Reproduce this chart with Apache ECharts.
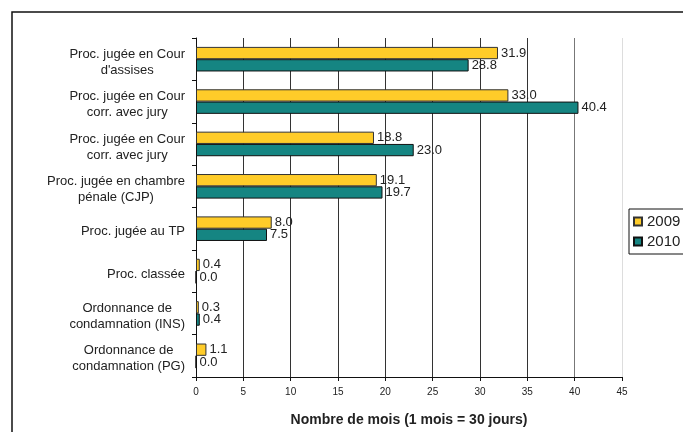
<!DOCTYPE html>
<html>
<head>
<meta charset="utf-8">
<script src="https://cdn.jsdelivr.net/npm/echarts@6/dist/echarts.min.js"></script>
<style>html,body{margin:0;padding:0;background:#fff}#c{width:683px;height:432px}</style>
</head>
<body>
<div id="c"></div>
<script>
const categories = [
  "Proc. jugée en Cour\nd'assises",
  "Proc. jugée en Cour\ncorr. avec jury",
  "Proc. jugée en Cour\ncorr. avec jury",
  "Proc. jugée en chambre\npénale (CJP)",
  "Proc. jugée au TP",
  "Proc. classée",
  "Ordonnance de\ncondamnation (INS)",
  "Ordonnance de\ncondamnation (PG)"
];
const values2009 = [31.9, 33.0, 18.8, 19.1, 8.0, 0.4, 0.3, 1.1];
const values2010 = [28.8, 40.4, 23.0, 19.7, 7.5, 0.0, 0.4, 0.0];
const xTicks = [0, 45, 5];

const FONT = '"Liberation Sans", Arial, sans-serif';
const chart = echarts.init(document.getElementById('c'), null, {renderer: 'canvas'});
const labelCfg = {
  show: true, position: 'right', distance: 3,
  color: '#222', fontSize: 13, fontFamily: FONT,
  formatter: p => p.value.toFixed(1)
};
chart.setOption({
  animation: false,
  backgroundColor: '#fff',
  graphic: [{
    type: 'rect', shape: {x: 12, y: 12, width: 700, height: 450},
    style: {fill: 'none', stroke: '#111', lineWidth: 1.5}, silent: true, z: 100
  }],
  legend: {
    orient: 'vertical', left: 629, top: 209,
    data: ['2009', '2010'],
    borderColor: '#111', borderWidth: 1, borderRadius: 0,
    padding: [5, 6, 5, 4],
    itemWidth: 8, itemHeight: 8, itemGap: 5,
    icon: 'rect',
    textStyle: {fontSize: 15, color: '#222', fontFamily: FONT}
  },
  grid: {left: 196, right: 61, top: 38, bottom: 48, containLabel: false},
  xAxis: {
    type: 'value', min: xTicks[0], max: xTicks[1], interval: xTicks[2],
    axisLine: {show: true, lineStyle: {color: '#111', width: 1}},
    axisTick: {show: true, length: 4, lineStyle: {color: '#111'}},
    axisLabel: {fontSize: 10, color: '#222', margin: 10, fontFamily: FONT},
    splitLine: {show: true, lineStyle: {color: ['#333','#333','#333','#333','#333','#333','#333','#333','#777','#ddd'], width: 1}},
    name: 'Nombre de mois (1 mois = 30 jours)',
    nameLocation: 'middle', nameGap: 36,
    nameTextStyle: {fontSize: 14, fontWeight: 'bold', color: '#222', fontFamily: FONT}
  },
  yAxis: {
    type: 'category', data: categories, inverse: true,
    axisLine: {show: true, lineStyle: {color: '#111'}},
    axisTick: {show: true, length: 4, lineStyle: {color: '#111'}},
    axisLabel: {
      margin: 11, color: '#222', fontSize: 13, fontFamily: FONT,
      lineHeight: 16, padding: [6, 0, 0, 0],
      formatter: v => v.split('\n').map(l => '{c|' + l + '}').join('\n'),
      rich: {c: {align: 'center', fontSize: 13, color: '#222', fontFamily: FONT, lineHeight: 16}}
    },
    splitLine: {show: false}
  },
  series: [
    {
      name: '2009', type: 'bar', data: values2009,
      barGap: '0%', barCategoryGap: '42%',
      itemStyle: {color: '#FFCC29', borderColor: '#333', borderWidth: 1},
      label: labelCfg
    },
    {
      name: '2010', type: 'bar', data: values2010,
      itemStyle: {color: '#158582', borderColor: '#111', borderWidth: 1},
      label: labelCfg
    }
  ]
});
</script>
</body>
</html>
